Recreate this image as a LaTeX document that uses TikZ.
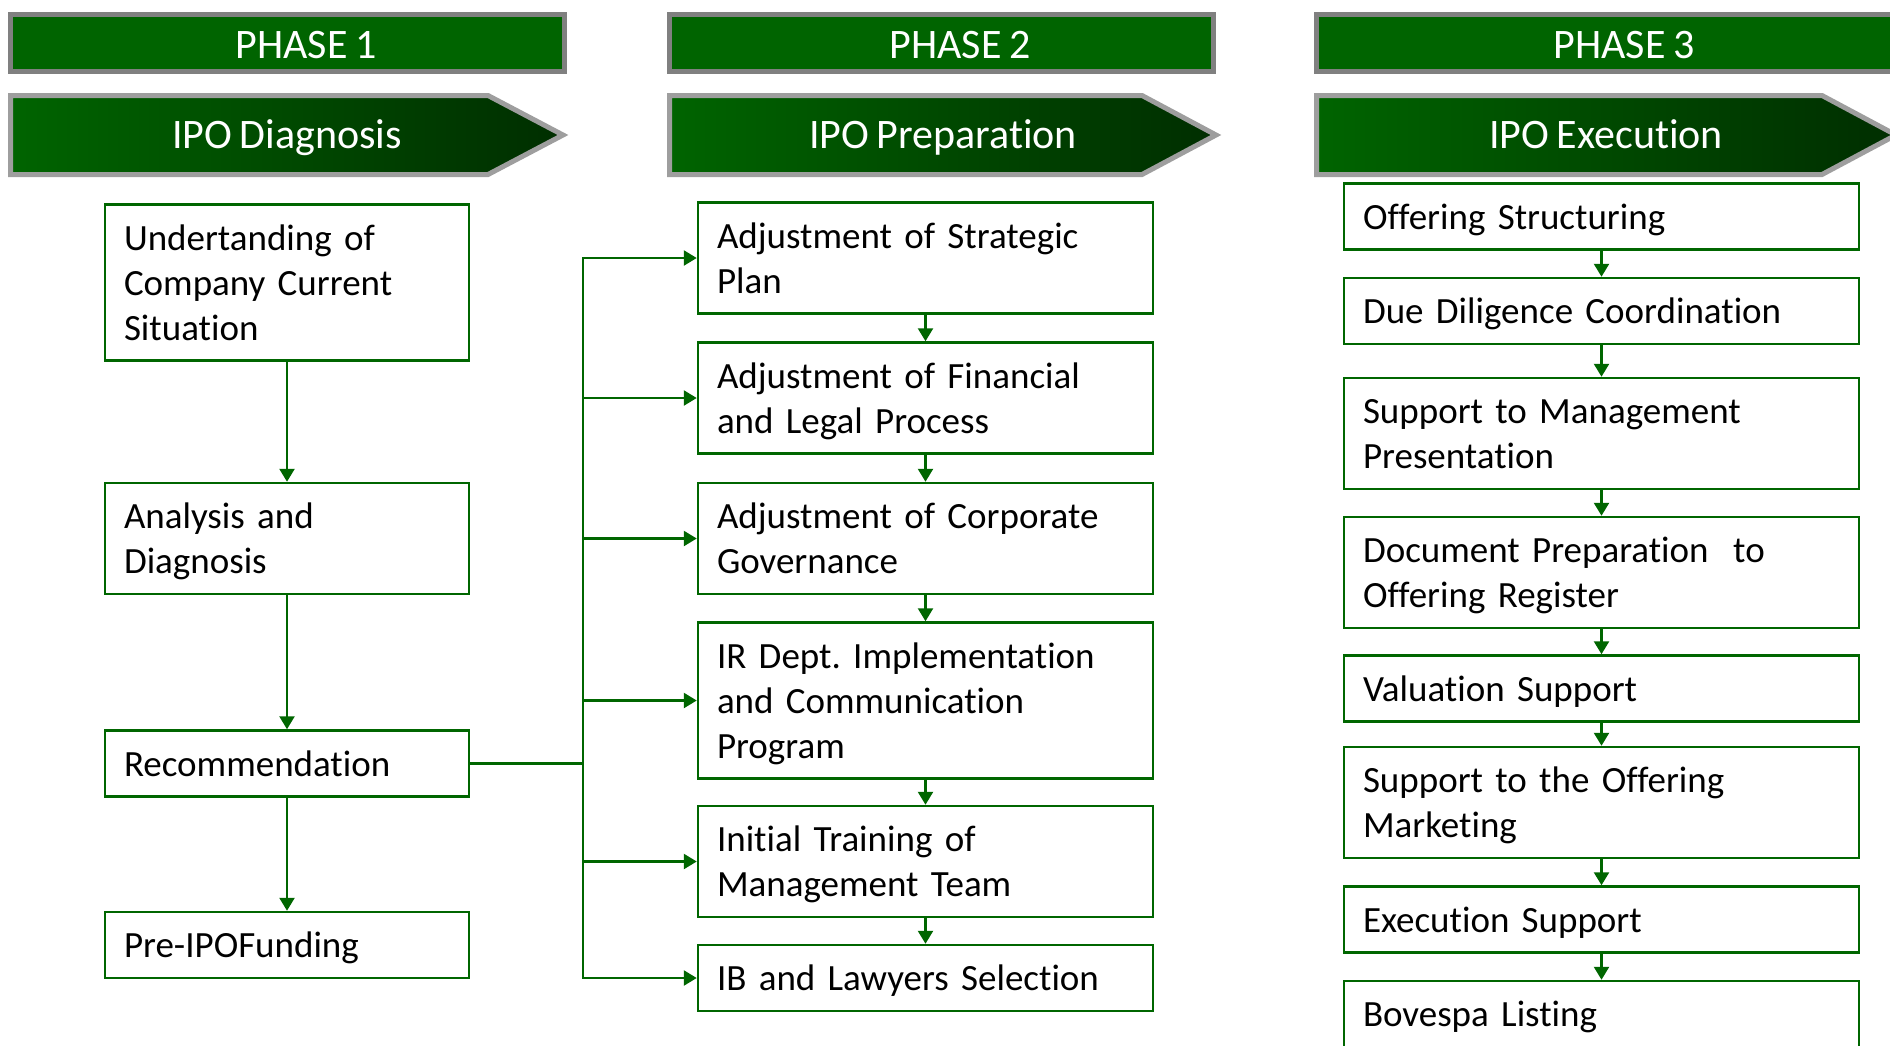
\documentclass[tikz,border=0pt]{standalone}
\usepackage{fontspec}
\setmainfont{Carlito}[Ligatures=NoCommon, RawFeature={-calt;-clig;-dlig}, WordSpace=0.8]
\usetikzlibrary{arrows.meta}
\definecolor{hdr}{RGB}{0,100,0}
\definecolor{hdrdark}{RGB}{0,46,0}
\definecolor{bx}{RGB}{0,102,0}
\definecolor{hgray}{RGB}{128,128,128}
\definecolor{agray}{RGB}{158,158,158}
\newcommand{\topstrut}{\rule{0pt}{33pt}}
\newcommand{\botstrut}{\rule[-8pt]{0pt}{8pt}}
\frenchspacing
\begin{document}
\begin{tikzpicture}[x=1pt,y=-1pt,
  phasebox/.style={draw=hgray, line width=5pt, fill=hdr},
  arrowbox/.style={draw=agray, line width=5pt, left color=hdr, right color=hdrdark, line join=miter},
  hdrtext/.style={text=white, font=\fontsize{42}{50}\selectfont, inner sep=0pt, anchor=base},
  stepbox/.style={draw=bx, line width=2.5pt, fill=white, text width=#1, align=left,
    inner xsep=19pt, inner ysep=0pt, anchor=center, font=\fontsize{37}{45}\selectfont\frenchspacing,
    execute at begin node=\topstrut, execute at end node=\botstrut},
  pa/.style={stepbox=326pt},
  pb/.style={stepbox=417pt},
  pc/.style={stepbox=477pt},
  one/.style={minimum height=66pt},
  two/.style={minimum height=111pt},
  three/.style={minimum height=156pt},
  conn/.style={draw=bx, line width=2.5pt},
  arr/.style={conn, -{Triangle[width=15pt,length=13pt]}}
]
\useasboundingbox (0,0) rectangle (1890,1045);
\clip (0,0) rectangle (1890,1045);

% headers
\draw[phasebox] (10.5,14.5) rectangle (564,71.5);
\node[hdrtext] (ph1) at (306,58) {PHASE 1};
\draw[phasebox] (669.5,14.5) rectangle (1213,71.5);
\node[hdrtext] (ph2) at (960,58) {PHASE 2};
\draw[phasebox] (1316.5,14.5) rectangle (1910,71.5);
\node[hdrtext] (ph3) at (1624,58) {PHASE 3};

\path[arrowbox] (10.5,95.5) -- (488,95.5) -- (563,135) -- (488,174.5) -- (10.5,174.5) -- cycle;
\node[hdrtext] (ar1) at (287,148.5) {IPO Diagnosis};
\path[arrowbox] (669.5,95.5) -- (1142,95.5) -- (1216,135) -- (1142,174.5) -- (669.5,174.5) -- cycle;
\node[hdrtext] (ar2) at (943,148.5) {IPO Preparation};
\path[arrowbox] (1316.5,95.5) -- (1822,95.5) -- (1896,135) -- (1822,174.5) -- (1316.5,174.5) -- cycle;
\node[hdrtext] (ar3) at (1606,148.5) {IPO Execution};

% phase 1
\node[pa, three] (a1) at (287,282.5) {Undertanding of\\Company Current\\Situation};
\node[pa, two]   (a2) at (287,538.5) {Analysis and\\Diagnosis};
\node[pa, one]   (a3) at (287,763.5) {Recommendation};
\node[pa, one]   (a4) at (287,945) {Pre-IPOFunding};
\draw[arr] (a1.south) -- (a2.north);
\draw[arr] (a2.south) -- (a3.north);
\draw[arr] (a3.south) -- (a4.north);

% phase 2
\node[pb, two]   (b1) at (925.5,258) {Adjustment of Strategic\\Plan};
\node[pb, two]   (b2) at (925.5,398) {Adjustment of Financial\\and Legal Process};
\node[pb, two]   (b3) at (925.5,538.5) {Adjustment of Corporate\\Governance};
\node[pb, three] (b4) at (925.5,700.5) {IR Dept. Implementation\\and Communication\\Program};
\node[pb, two]   (b5) at (925.5,861.5) {Initial Training of\\Management Team};
\node[pb, one]   (b6) at (925.5,978) {IB and Lawyers Selection};
\draw[arr] (b1.south) -- (b2.north);
\draw[arr] (b2.south) -- (b3.north);
\draw[arr] (b3.south) -- (b4.north);
\draw[arr] (b4.south) -- (b5.north);
\draw[arr] (b5.south) -- (b6.north);

% bus
\coordinate (bus) at (583,763.5);
\draw[conn, line width=3pt] (a3.east) -- (bus);
\foreach \t in {b1,b2,b3,b4,b5,b6}{
  \draw[arr] (bus) |- (\t.west);
}

% phase 3
\node[pc, one] (c1) at (1601.5,216.5) {Offering Structuring};
\node[pc, one] (c2) at (1601.5,311) {Due Diligence Coordination};
\node[pc, two] (c3) at (1601.5,433.5) {Support to Management\\Presentation};
\node[pc, two] (c4) at (1601.5,572.5) {Document Preparation~ to\\Offering Register};
\node[pc, one] (c5) at (1601.5,688.5) {Valuation Support};
\node[pc, two] (c6) at (1601.5,802.5) {Support to the Offering\\Marketing};
\node[pc, one] (c7) at (1601.5,919.5) {Execution Support};
\node[pc, one] (c8) at (1601.5,1014) {Bovespa Listing};
\draw[arr] (c1.south) -- (c2.north);
\draw[arr] (c2.south) -- (c3.north);
\draw[arr] (c3.south) -- (c4.north);
\draw[arr] (c4.south) -- (c5.north);
\draw[arr] (c5.south) -- (c6.north);
\draw[arr] (c6.south) -- (c7.north);
\draw[arr] (c7.south) -- (c8.north);
\end{tikzpicture}
\end{document}
